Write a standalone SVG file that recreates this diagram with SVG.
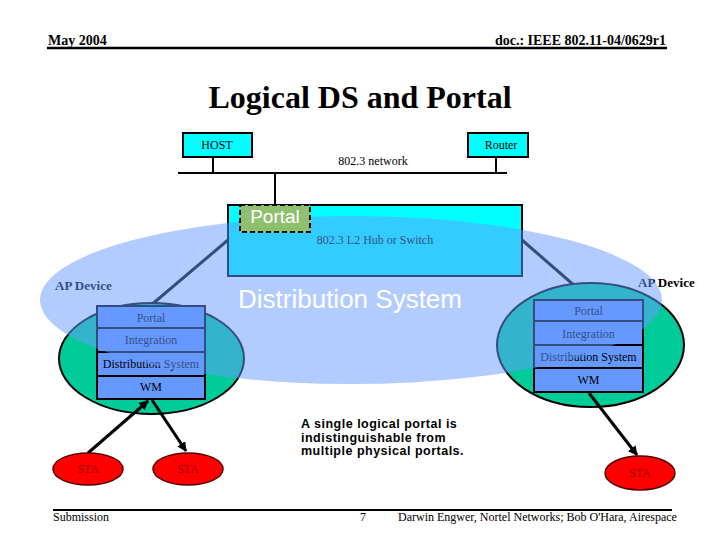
<svg xmlns="http://www.w3.org/2000/svg" width="720" height="540" viewBox="0 0 720 540">
<style>
.hdr{font-family:"Liberation Serif",serif;font-weight:bold;font-size:14px;fill:#000}
.title{font-family:"Liberation Serif",serif;font-weight:bold;font-size:32px;fill:#000}
.s12{font-family:"Liberation Serif",serif;font-size:12px;fill:#000}
.sta{font-family:"Liberation Serif",serif;font-size:12px;fill:#990000}
.ap{font-family:"Liberation Serif",serif;font-weight:bold;font-size:13px;fill:#000}
.box{fill:#00FFFF;stroke:#000;stroke-width:2}
.row{fill:#6699FF;stroke:#000;stroke-width:2}
.apell{fill:#00CC99;stroke:#000;stroke-width:2}
.staell{fill:#FF0000;stroke:#550000;stroke-width:1.5}
.ln{stroke:#000;stroke-width:2;fill:none}
.conn{stroke:#000;stroke-width:3;fill:none}
.white{font-family:"Liberation Sans",Arial,sans-serif;fill:#fff}
.call{font-family:"Liberation Sans",Arial,sans-serif;font-weight:bold;font-size:12.5px;letter-spacing:0.5px;fill:#000}
</style>
<defs>
<marker id="ah" viewBox="0 0 10 10" refX="9" refY="5" markerWidth="3.2" markerHeight="3.2" orient="auto" markerUnits="strokeWidth">
<path d="M0,0 L10,5 L0,10 z" fill="#000"/>
</marker>
</defs>
<rect width="720" height="540" fill="#fff"/>

<g id="header">
<text class="hdr" x="48" y="45">May 2004</text>
<text class="hdr" x="666" y="45" text-anchor="end">doc.: IEEE 802.11-04/0629r1</text>
<line x1="47" y1="48" x2="667" y2="48" stroke="#000" stroke-width="2.5"/>
</g>
<text class="title" x="360" y="108" text-anchor="middle">Logical DS and Portal</text>

<g id="network">
<line class="ln" x1="178" y1="173" x2="507" y2="173"/>
<line class="ln" x1="213" y1="157" x2="213" y2="173"/>
<line class="ln" x1="496" y1="157" x2="496" y2="173"/>
<line class="ln" x1="275" y1="173" x2="275" y2="205"/>
<text class="s12" x="373" y="165" text-anchor="middle">802.3 network</text>
</g>
<g id="host">
<rect class="box" x="183" y="133" width="69" height="24"/>
<text class="s12" x="217" y="149" text-anchor="middle">HOST</text>
</g>
<g id="router">
<rect class="box" x="468" y="133" width="60" height="24"/>
<text class="s12" x="501" y="149" text-anchor="middle">Router</text>
</g>

<g id="hub">
<rect class="box" x="228" y="205" width="294" height="71"/>
<text class="s12" x="375" y="244" text-anchor="middle">802.3 L2 Hub or Switch</text>
</g>

<g id="connectors-ds">
<line class="conn" x1="228" y1="240" x2="150" y2="306"/>
<line class="conn" x1="522" y1="240" x2="591" y2="300"/>
</g>

<g id="ap-left">
<ellipse class="apell" cx="151.5" cy="358.5" rx="92.5" ry="55.5"/>
<rect class="row" x="97" y="306" width="108" height="22"/>
<rect class="row" x="97" y="328" width="108" height="24"/>
<rect class="row" x="97" y="352" width="108" height="24"/>
<rect class="row" x="97" y="376" width="108" height="23"/>
<text class="s12" x="151" y="322" text-anchor="middle">Portal</text>
<text class="s12" x="151" y="344" text-anchor="middle">Integration</text>
<text class="s12" x="151" y="368" text-anchor="middle">Distribution System</text>
<text class="s12" x="151" y="391" text-anchor="middle">WM</text>
<text class="ap" x="55" y="290">AP Device</text>
</g>

<g id="ap-right">
<ellipse class="apell" cx="590.5" cy="345" rx="93.5" ry="62"/>
<rect class="row" x="534" y="300" width="109" height="21"/>
<rect class="row" x="534" y="321" width="109" height="24"/>
<rect class="row" x="534" y="345" width="109" height="23"/>
<rect class="row" x="534" y="368" width="109" height="24"/>
<text class="s12" x="588.5" y="315" text-anchor="middle">Portal</text>
<text class="s12" x="588.5" y="338" text-anchor="middle">Integration</text>
<text class="s12" x="588.5" y="361" text-anchor="middle">Distribution System</text>
<text class="s12" x="588.5" y="384" text-anchor="middle">WM</text>
<text class="ap" x="638" y="287">AP Device</text>
</g>

<g id="ds">
<ellipse cx="351" cy="300" rx="311" ry="84" fill="#6699FF" fill-opacity="0.5"/>
<text class="white" x="350" y="308" font-size="26" text-anchor="middle">Distribution System</text>
</g>

<g id="portal">
<rect x="240" y="205" width="70" height="27" fill="#8FC06F" stroke="#000" stroke-width="2" stroke-dasharray="5 3"/>
<text class="white" x="275" y="223" font-size="19" text-anchor="middle">Portal</text>
</g>

<g id="connectors">
<line class="conn" x1="88" y1="453" x2="148" y2="401" marker-end="url(#ah)"/>
<line class="conn" x1="152" y1="400" x2="186" y2="451" marker-end="url(#ah)"/>
<line class="conn" x1="589" y1="393" x2="637" y2="455" marker-end="url(#ah)"/>
</g>

<g id="sta1">
<ellipse class="staell" cx="88" cy="469" rx="35" ry="16"/>
<text class="sta" x="88" y="473" text-anchor="middle">STA</text>
</g>
<g id="sta2">
<ellipse class="staell" cx="188" cy="469" rx="35" ry="16"/>
<text class="sta" x="188" y="473" text-anchor="middle">STA</text>
</g>
<g id="sta3">
<ellipse class="staell" cx="640" cy="473" rx="35" ry="17"/>
<text class="sta" x="640" y="477" text-anchor="middle">STA</text>
</g>

<g id="callout">
<text class="call" x="301" y="428">A single logical portal is</text>
<text class="call" x="301" y="441.5">indistinguishable from</text>
<text class="call" x="301" y="455">multiple physical portals.</text>
</g>

<g id="footer">
<line x1="53" y1="510" x2="672" y2="510" stroke="#000" stroke-width="2"/>
<text class="s12" x="53" y="521">Submission</text>
<text class="s12" x="360" y="521">7</text>
<text class="s12" x="398" y="521">Darwin Engwer, Nortel Networks; Bob O'Hara, Airespace</text>
</g>
</svg>
